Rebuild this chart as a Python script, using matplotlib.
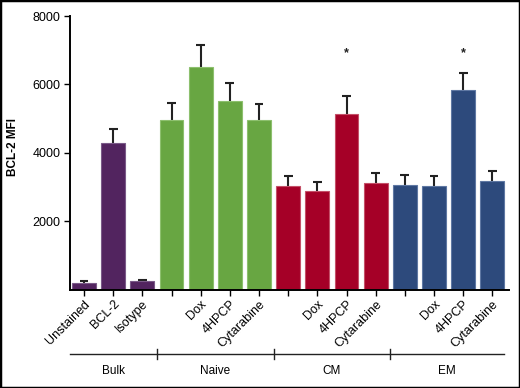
import matplotlib.pyplot as plt
import numpy as np
from matplotlib.patches import Rectangle

# bar labels (blank ticks carry no label)
tick_labels = ["Unstained", "BCL-2", "Isotype",
               "", "Dox", "4HPCP", "Cytarabine",
               "", "Dox", "4HPCP", "Cytarabine",
               "", "Dox", "4HPCP", "Cytarabine"]
groups = ["Bulk", "Naive", "CM", "EM"]
group_sizes = [3, 4, 4, 4]

mfi = [205, 4280, 245,
       4970, 6500, 5530, 4960,
       3030, 2880, 5150, 3120,
       3050, 3020, 5830, 3190]
sem = [50, 420, 45,
       480, 650, 520, 470,
       305, 280, 510, 300,
       300, 300, 515, 290]
starred = [9, 13]
star_y = 6900

group_colors = ["#52245F", "#68A642", "#A50027", "#2D4A7C"]
edge_colors = ["#7A5A88", "#8DC06E", "#C45068", "#5F78A3"]

plt.rcParams["font.family"] = ["Liberation Sans", "DejaVu Sans"]

fig = plt.figure(figsize=(5.2, 3.88), dpi=100)
ax = fig.add_axes([70 / 520, 1 - 289.7 / 388, 439 / 520, 273.7 / 388])

colors, edges = [], []
for c, e, n in zip(group_colors, edge_colors, group_sizes):
    colors += [c] * n
    edges += [e] * n

x = np.arange(len(mfi))
top = np.array(mfi) + np.array(sem)
ax.bar(x, mfi, width=0.82, color=colors, edgecolor=edges, linewidth=0.8, zorder=2)
# upper error bars only
ax.vlines(x, mfi, top, color="#222222", lw=1.5, zorder=1)
ax.hlines(top, x - 0.15, x + 0.15, color="#222222", lw=1.5, zorder=1)

for i in starred:
    ax.text(x[i], star_y, "*", ha="center", va="center", fontsize=9,
            fontweight="bold", color="#222222")

ax.set_xlim(-0.48, len(mfi) - 1 + 0.57)
ax.set_ylim(0, 8000)
ax.set_yticks([2000, 4000, 6000, 8000])
ax.tick_params(axis="y", labelsize=9, length=4, width=1, pad=3)
ax.set_xticks(x)
ax.set_xticklabels(tick_labels, rotation=45, ha="right", rotation_mode="anchor", fontsize=9)
ax.tick_params(axis="x", length=4, width=1, pad=2)

for side in ["top", "right"]:
    ax.spines[side].set_visible(False)
ax.spines["left"].set_linewidth(1.4)
ax.spines["bottom"].set_linewidth(1.4)

ax.set_ylabel("BCL-2 MFI", fontsize=8.5, fontweight="bold")
ax.yaxis.set_label_coords(-0.117, 0.52)

# group brackets below the axis
trans = ax.get_xaxis_transform()
line_y = -0.235
label_y = -0.296
bounds = [-0.5]
for n in group_sizes:
    bounds.append(bounds[-1] + n)
bounds[0] = -0.48
bounds[-1] = len(mfi) - 1 + 0.41
ax.plot([bounds[0], bounds[-1]], [line_y, line_y], color="#222222", lw=1,
        transform=trans, clip_on=False)
for b in bounds[1:-1]:
    ax.plot([b, b], [line_y - 0.02, line_y + 0.02], color="#222222", lw=1,
            transform=trans, clip_on=False)
for g, a, b in zip(groups, bounds[:-1], bounds[1:]):
    ax.text((a + b) / 2, label_y, g, transform=trans, ha="center", va="center",
            fontsize=8.5)

fig.patches.append(Rectangle((0, 0), 1, 1, transform=fig.transFigure, fill=False,
                             edgecolor="black", linewidth=2.5))

fig.savefig("out.png", dpi=100)
